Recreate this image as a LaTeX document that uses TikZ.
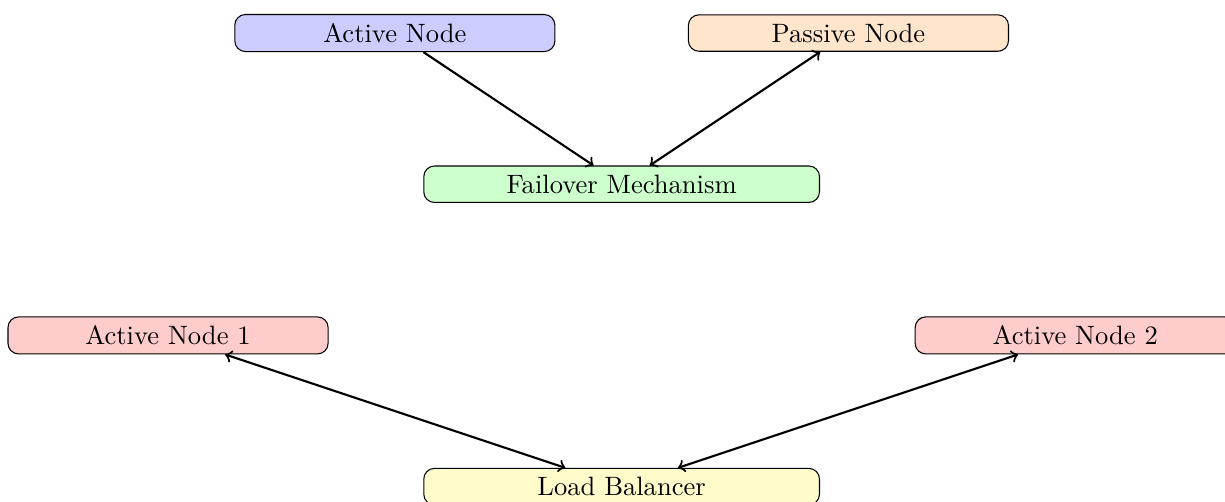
\documentclass[tikz,border=0pt]{standalone}
\usetikzlibrary{arrows}
\begin{document}
\begin{tikzpicture}[
	box/.style={draw, rounded corners, text width=4cm, align=center},
	widebox/.style={box, text width=5cm},
	link/.style={thick}]
	\useasboundingbox (-8.223,-4.203) rectangle (7.981,2.437);
	% active-passive
	\node[box, fill=blue!20] (act) at (-3.0, 2.0) {Active Node};
	\node[box, fill=orange!20] (pas) at (3.0, 2.0) {Passive Node};
	\node[widebox, fill=green!20] (fail) at (0.0, 0.0) {Failover Mechanism};

	% active-active
	\node[box, fill=red!20] (act1) at (-6.0, -2.0) {Active Node 1};
	\node[box, fill=red!20] (act2) at (6.0, -2.0) {Active Node 2};
	\node[widebox, fill=yellow!20] (lb) at (0.0, -4.0) {Load Balancer};

	% DRAW LINKS
	\draw[link, ->] (act) -- (fail);
	\draw[link, <->] (fail) -- (pas);
	\draw[link, <->] (act1) -- (lb);
	\draw[link, <->] (act2) -- (lb);
\end{tikzpicture}
\end{document}
